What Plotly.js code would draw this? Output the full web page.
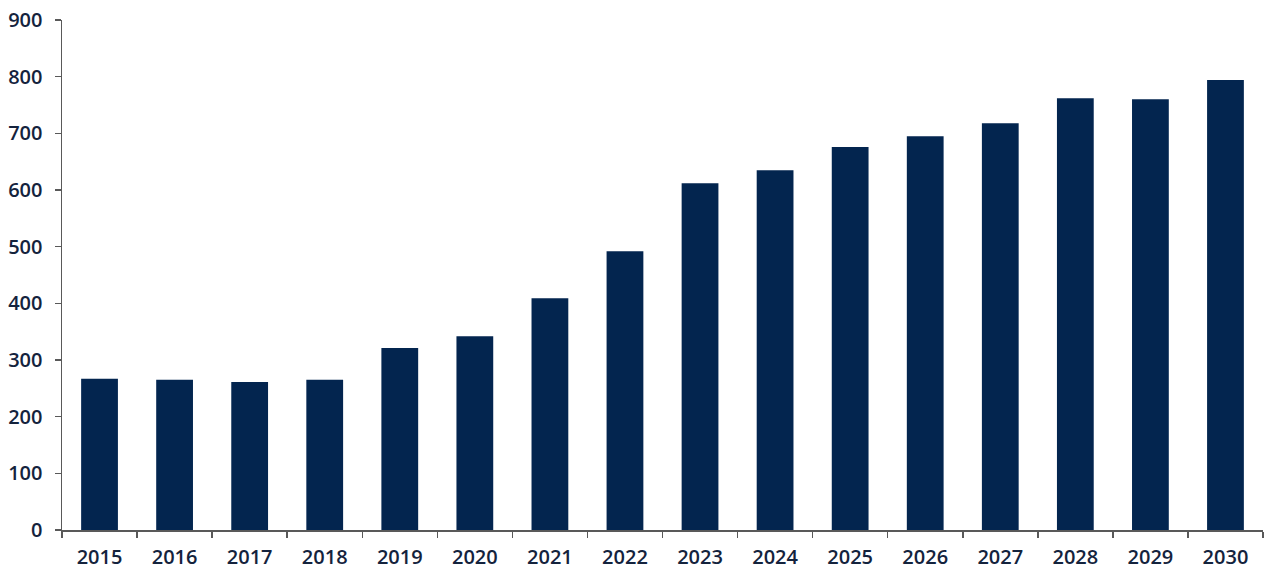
<!DOCTYPE html>
<html>
<head>
<meta charset="utf-8">
<script src="https://cdn.plot.ly/plotly-3.0.1.min.js"></script>
<style>html,body{margin:0;padding:0;background:#fff;}#chart{width:1280px;height:575px;}</style>
</head>
<body>
<div id="chart"></div>
<script>
const years = ["2015","2016","2017","2018","2019","2020","2021","2022","2023","2024","2025","2026","2027","2028","2029","2030"];
const values = [267, 265, 261, 265, 321, 342, 409, 492, 612, 635, 676, 695, 718, 762, 760, 794];
const yTicks = [0,100,200,300,400,500,600,700,800,900];

const trace = {
  type: "bar",
  x: years,
  y: values,
  marker: {color: "#03254f", line: {width: 0}},
  width: 0.49,
  hoverinfo: "x+y"
};
const tf = {family: "Open Sans, sans-serif", size: 20, color: "#14233d", weight: 600};
const layout = {
  width: 1280, height: 575,
  margin: {l: 62, r: 17, t: 20, b: 45},
  paper_bgcolor: "#fff", plot_bgcolor: "#fff",
  showlegend: false,
  font: {family: "Open Sans, sans-serif", size: 20, color: "#14233d"},
  xaxis: {
    type: "category",
    showgrid: false, zeroline: false,
    showline: true, linecolor: "#595959", linewidth: 1.5,
    ticks: "outside", ticklen: 6, tickcolor: "#595959", tickwidth: 1.5,
    tickson: "boundaries",
    tickfont: tf,
    ticklabelstandoff: 8
  },
  yaxis: {
    range: [0, 900],
    tickvals: yTicks,
    showgrid: false, zeroline: false,
    showline: true, linecolor: "#595959", linewidth: 1.5,
    ticks: "outside", ticklen: 6, tickcolor: "#595959", tickwidth: 1.5,
    tickfont: tf,
    ticklabelstandoff: 8
  },
  bargap: 0.51
};
Plotly.newPlot("chart", [trace], layout, {displayModeBar: false, staticPlot: true});
</script>
</body>
</html>
